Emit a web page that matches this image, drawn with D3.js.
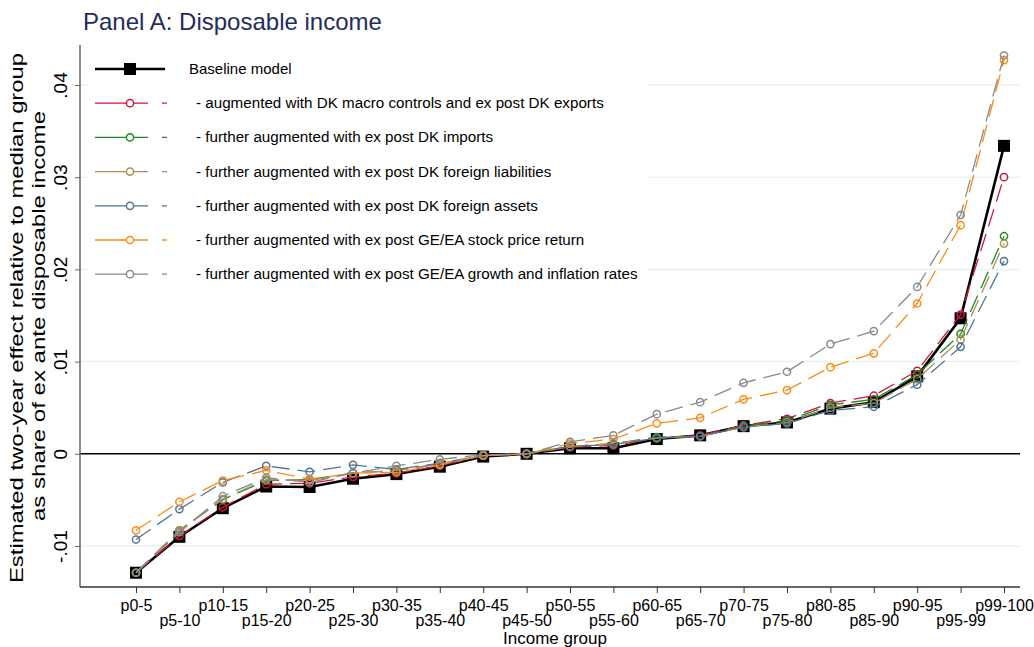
<!DOCTYPE html>
<html>
<head>
<meta charset="utf-8">
<script src="https://cdn.jsdelivr.net/npm/d3@7"></script>
<style>
  html, body { margin: 0; padding: 0; background: #fff; }
  svg { display: block; font-family: "Liberation Sans", Arial, sans-serif; }
</style>
</head>
<body>
<svg id="chart" width="1034" height="647"></svg>
<script>
const categories = ["p0-5","p5-10","p10-15","p15-20","p20-25","p25-30","p30-35","p35-40","p40-45","p45-50",
  "p50-55","p55-60","p60-65","p65-70","p70-75","p75-80","p80-85","p85-90","p90-95","p95-99","p99-100"];

const baseline = [-0.0129,-0.0090,-0.0059,-0.00355,-0.0036,-0.0027,-0.0022,-0.0014,-0.0003,0,
  0.0006,0.0006,0.0016,0.0020,0.0030,0.0034,0.0049,0.0056,0.0084,0.0147,0.0334];
const exportsAug = [-0.0129,-0.0089,-0.0058,-0.0033,-0.0032,-0.0025,-0.0021,-0.0013,-0.0002,0,
  0.0007,0.0009,0.0017,0.0020,0.0031,0.0038,0.0055,0.0063,0.0090,0.0151,0.0300];
const importsAug = [-0.0129,-0.0083,-0.0050,-0.0029,-0.0028,-0.0021,-0.0018,-0.0011,-0.0002,0,
  0.0008,0.0011,0.0018,0.0019,0.0030,0.0036,0.0053,0.0059,0.0086,0.0130,0.0236];
const liabAug = [-0.0129,-0.0083,-0.0049,-0.0028,-0.0029,-0.0021,-0.0018,-0.0011,-0.0002,0,
  0.0008,0.0011,0.0017,0.0019,0.0029,0.0034,0.0050,0.0055,0.0081,0.0124,0.0228];
const assetsAug = [-0.0093,-0.0060,-0.0031,-0.0013,-0.00195,-0.0012,-0.0017,-0.0010,-0.0002,0,
  0.0008,0.0010,0.0017,0.0019,0.0029,0.0033,0.0047,0.0051,0.0075,0.0116,0.0209];
const stockAug = [-0.0083,-0.0052,-0.0029,-0.0018,-0.00275,-0.0021,-0.0020,-0.0012,-0.0002,0,
  0.0011,0.0016,0.0033,0.0039,0.0059,0.0069,0.0094,0.0109,0.0163,0.0248,0.0427];
const growthAug = [-0.0129,-0.0085,-0.0046,-0.0026,-0.0031,-0.0021,-0.0013,-0.0006,-0.0001,0,
  0.0013,0.0020,0.0043,0.0056,0.0077,0.0089,0.0119,0.0133,0.0181,0.0259,0.0432];

const yTicks = [-0.01, 0, 0.01, 0.02, 0.03, 0.04];
const yTickLabels = ["-.01", "0", ".01", ".02", ".03", ".04"];

const seriesNames = [
  "Baseline model",
  "- augmented with DK macro controls and ex post DK exports",
  "- further augmented with ex post DK imports",
  "- further augmented with ex post DK foreign liabilities",
  "- further augmented with ex post DK foreign assets",
  "- further augmented with ex post GE/EA stock price return",
  "- further augmented with ex post GE/EA growth and inflation rates"
];
const seriesValues = [baseline, exportsAug, importsAug, liabAug, assetsAug, stockAug, growthAug];
const seriesColors = ["#000000", "#d0163e", "#1f8a1f", "#a89058", "#4e7596", "#ff8a14", "#8a8a8a"];

const titleText = "Panel A: Disposable income";
const yTitle1 = "Estimated two-year effect relative to median group";
const yTitle2 = "as share of ex ante disposable income";
const xTitle = "Income group";

const svg = d3.select("#chart");
const L = 80, R = 1020, T = 45, B = 587;

const x = d3.scalePoint().domain(categories).range([136, 1004]);
const y = d3.scaleLinear().domain([-0.01, 0.04]).range([546, 85]);

// gridlines
svg.append("g").selectAll("line").data(yTicks.filter(d => d !== 0)).join("line")
  .attr("x1", L).attr("x2", R).attr("y1", d => y(d)).attr("y2", d => y(d))
  .attr("stroke", "#eaf1f3").attr("stroke-width", 1.5);

// zero line
svg.append("line").attr("x1", L).attr("x2", R).attr("y1", y(0)).attr("y2", y(0))
  .attr("stroke", "#000").attr("stroke-width", 1.5);

// y axis
const yAxis = d3.axisLeft(y).tickValues(yTicks).tickSize(5).tickFormat((d, i) => yTickLabels[i]);
const gy = svg.append("g").attr("transform", `translate(${L},0)`).call(yAxis);
gy.select(".domain").remove();
gy.selectAll(".tick line").attr("stroke", "#666");
gy.selectAll(".tick text").remove();
gy.selectAll(".tick").append("text")
  .attr("transform", "translate(-13,0) rotate(-90)")
  .attr("text-anchor", "middle")
  .attr("fill", "#000")
  .style("font-size", "19px")
  .style("font-family", "'Liberation Sans', Arial, sans-serif")
  .text((d, i) => yTickLabels[i]);
svg.append("line").attr("x1", L).attr("x2", L).attr("y1", T).attr("y2", B)
  .attr("stroke", "#666").attr("stroke-width", 1.5);

// x axis
const xAxis = d3.axisBottom(x).tickSize(6).tickSizeOuter(0);
const gx = svg.append("g").attr("transform", `translate(0,${B})`).call(xAxis);
gx.select(".domain").remove();
gx.selectAll(".tick line").attr("stroke", "#333");
gx.selectAll(".tick text")
  .attr("y", (d, i) => i % 2 === 0 ? 24 : 39)
  .attr("dy", 0)
  .attr("fill", "#000")
  .style("font-size", "16px")
  .style("font-family", "'Liberation Sans', Arial, sans-serif");
svg.append("line").attr("x1", L).attr("x2", R).attr("y1", B).attr("y2", B)
  .attr("stroke", "#333").attr("stroke-width", 1.5);

// titles
svg.append("text").attr("x", 83).attr("y", 30).attr("fill", "#1f2d5c")
  .style("font-size", "24px").text(titleText);
svg.append("text").attr("transform", `translate(23,318) rotate(-90)`)
  .attr("text-anchor", "middle").style("font-size", "18px")
  .attr("textLength", 530).attr("lengthAdjust", "spacingAndGlyphs").text(yTitle1);
svg.append("text").attr("transform", `translate(45,316) rotate(-90)`)
  .attr("text-anchor", "middle").style("font-size", "18px")
  .attr("textLength", 410).attr("lengthAdjust", "spacingAndGlyphs").text(yTitle2);
svg.append("text").attr("x", 555).attr("y", 644).attr("text-anchor", "middle")
  .style("font-size", "17px").text(xTitle);

// series
const line = d3.line().x((d, i) => x(categories[i])).y(d => y(d));
seriesValues.forEach((vals, s) => {
  const g = svg.append("g");
  if (s === 0) {
    g.append("path").attr("d", line(vals)).attr("fill", "none")
      .attr("stroke", "#000").attr("stroke-width", 2.6).attr("stroke-linejoin", "round");
    g.selectAll("rect").data(vals).join("rect")
      .attr("x", (d, i) => x(categories[i]) - 6).attr("y", d => y(d) - 6)
      .attr("width", 12).attr("height", 12).attr("fill", "#000");
  } else {
    g.append("path").attr("d", line(vals)).attr("fill", "none")
      .attr("stroke", seriesColors[s]).attr("stroke-width", 1.3)
      .attr("stroke-dasharray", "18,8");
    g.selectAll("circle").data(vals).join("circle")
      .attr("cx", (d, i) => x(categories[i])).attr("cy", d => y(d)).attr("r", 3.6)
      .attr("fill", "none").attr("stroke", seriesColors[s]).attr("stroke-width", 1.5);
  }
});

// legend
const lg = svg.append("g");
lg.append("rect").attr("x", 88).attr("y", 50).attr("width", 560).attr("height", 242).attr("fill", "#fff");
seriesNames.forEach((name, s) => {
  const ly = 69 + s * 34.2;
  if (s === 0) {
    lg.append("line").attr("x1", 95).attr("x2", 165).attr("y1", ly).attr("y2", ly)
      .attr("stroke", "#000").attr("stroke-width", 2.6);
    lg.append("rect").attr("x", 124).attr("y", ly - 6).attr("width", 12).attr("height", 12).attr("fill", "#000");
    lg.append("text").attr("x", 189).attr("y", ly + 5).style("font-size", "15px").text(name);
  } else {
    lg.append("line").attr("x1", 95).attr("x2", 167).attr("y1", ly).attr("y2", ly)
      .attr("stroke", seriesColors[s]).attr("stroke-width", 1.3).attr("stroke-dasharray", "53,14");
    lg.append("circle").attr("cx", 130).attr("cy", ly).attr("r", 3.6)
      .attr("fill", "#fff").attr("stroke", seriesColors[s]).attr("stroke-width", 1.5);
    lg.append("text").attr("x", 196).attr("y", ly + 5).style("font-size", "15.2px").text(name);
  }
});
</script>
</body>
</html>
